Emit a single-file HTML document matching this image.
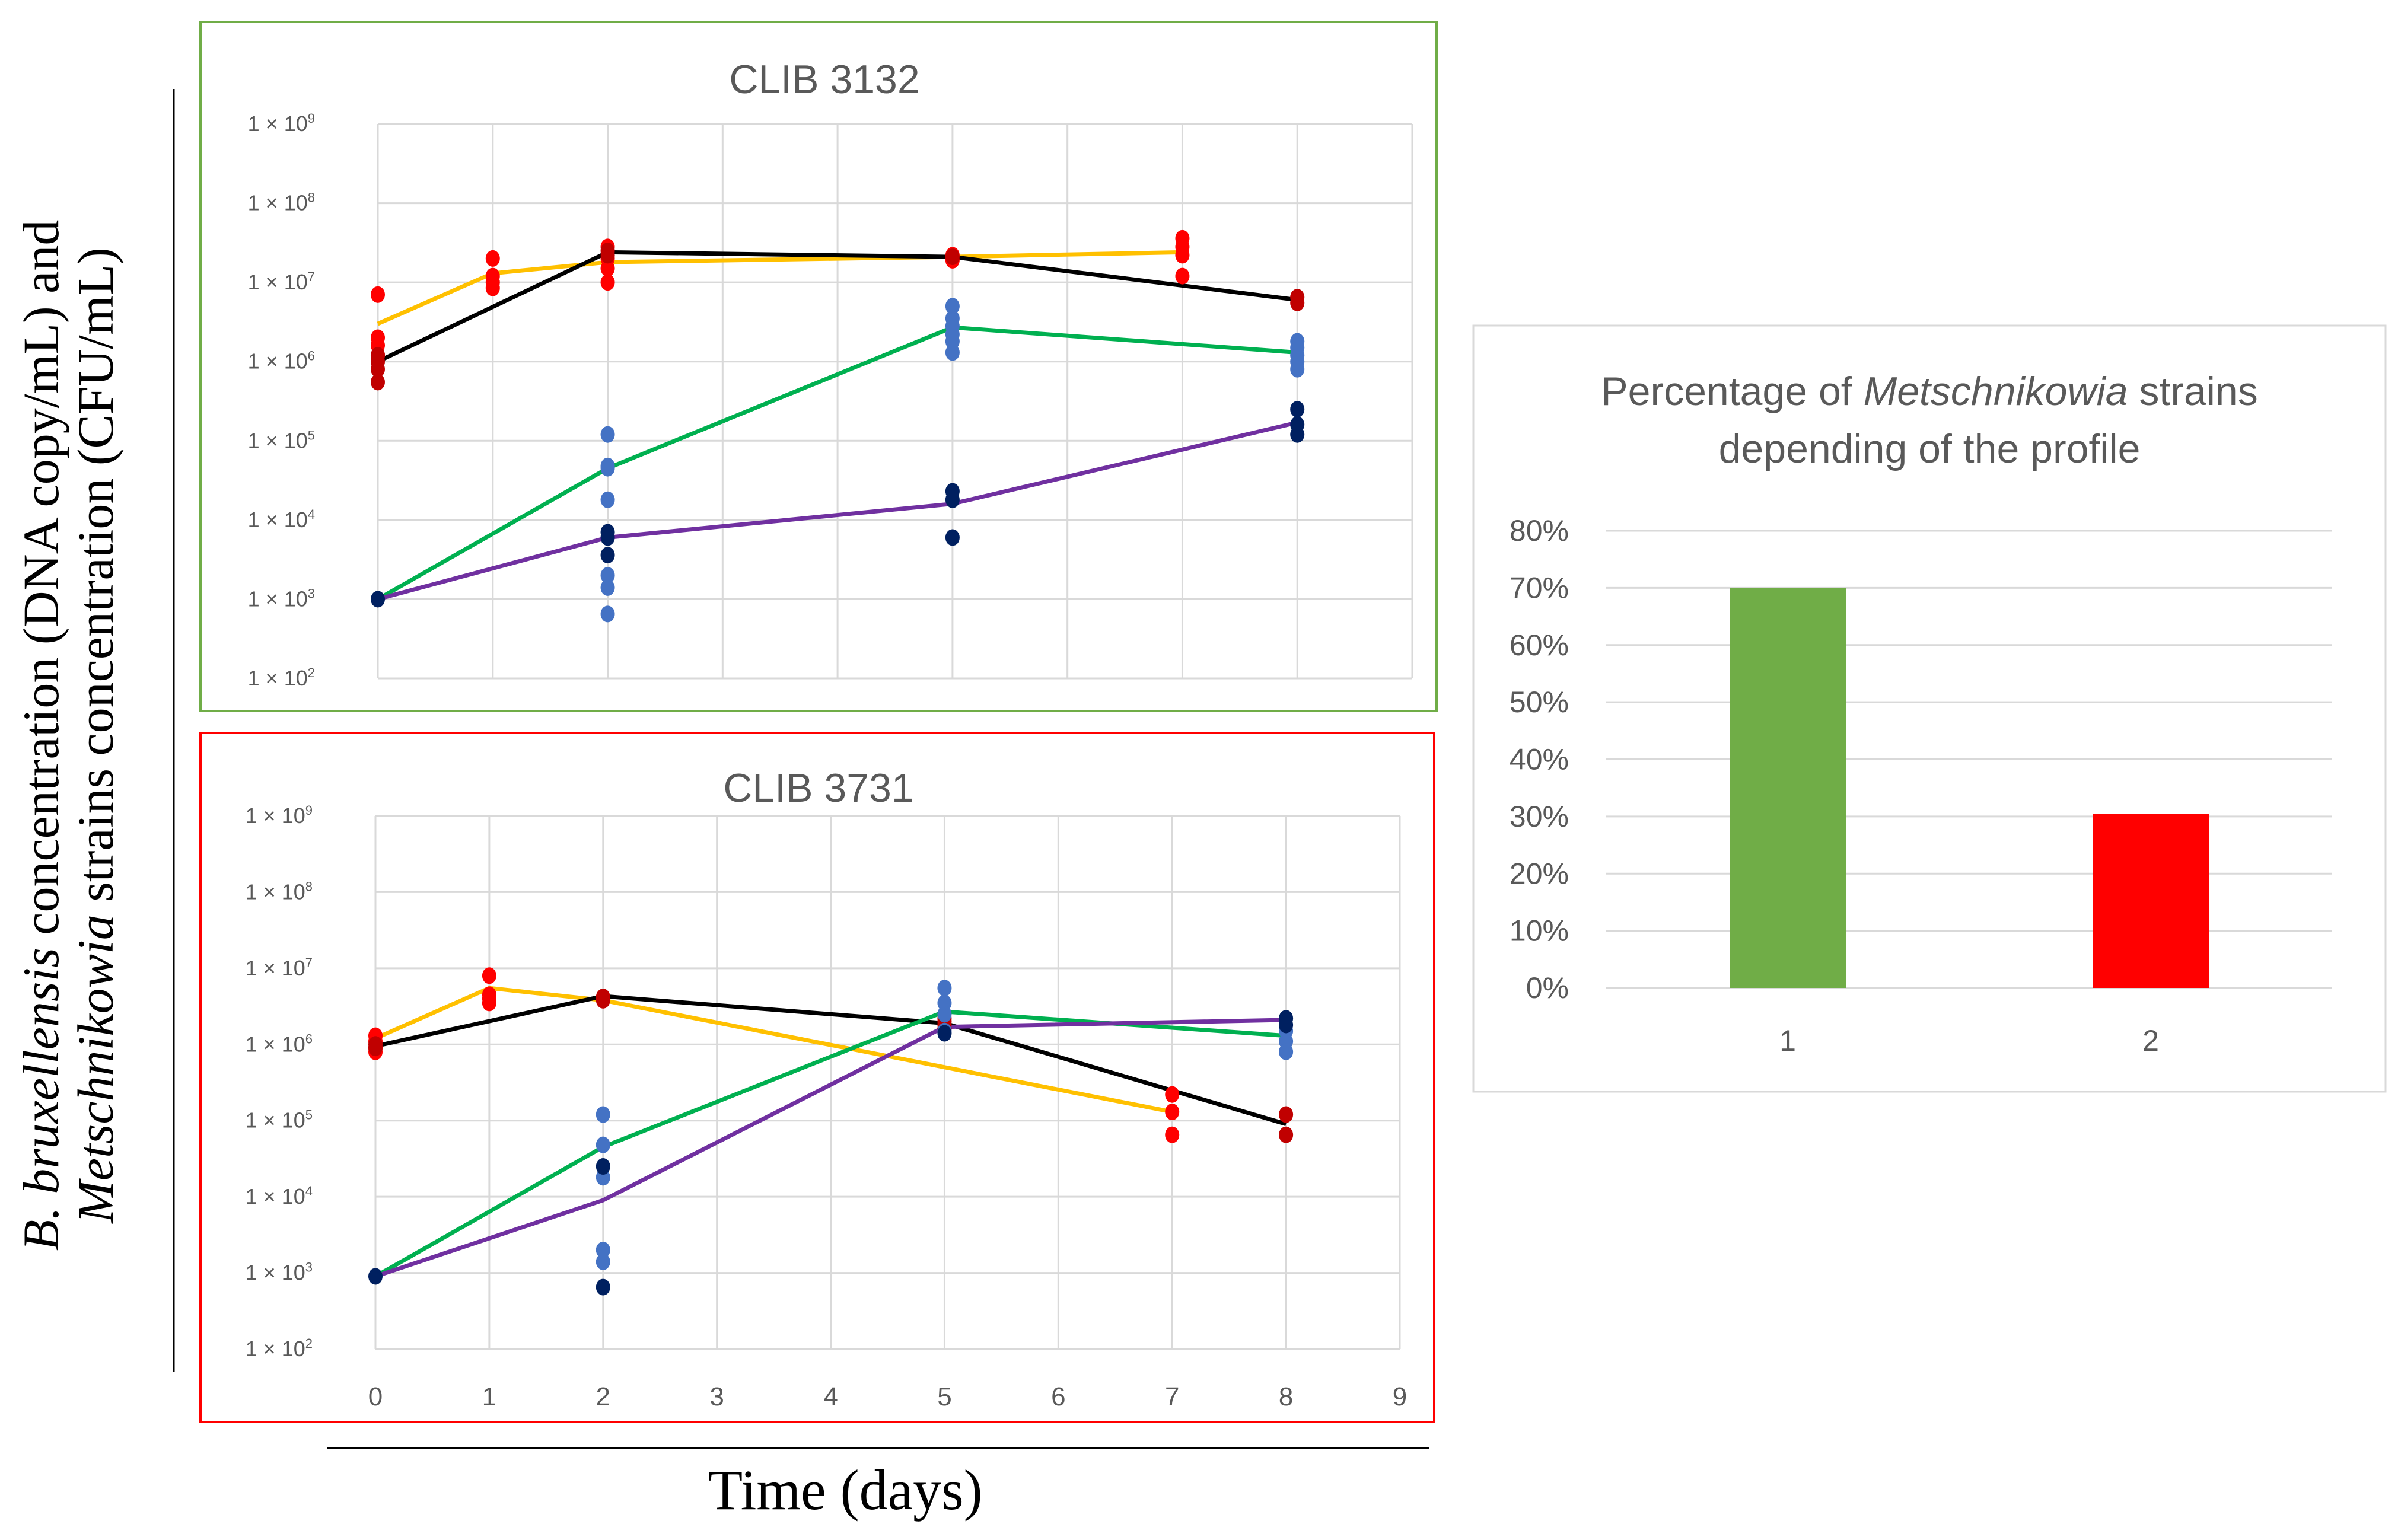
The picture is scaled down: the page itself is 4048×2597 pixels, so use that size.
<!DOCTYPE html>
<html><head><meta charset="utf-8"><style>
html,body{margin:0;padding:0;background:#fff;}
svg{display:block;}
text{font-family:"Liberation Sans",sans-serif;}
</style></head><body>
<svg id="fig" width="4048" height="2597" viewBox="0 0 4048 2597" xmlns="http://www.w3.org/2000/svg">
<rect x="0" y="0" width="4048" height="2597" fill="#fff"/>
<rect x="338" y="37" width="2084" height="1162" fill="none" stroke="#70AD47" stroke-width="4"/>
<rect x="338" y="1236" width="2080" height="1162" fill="none" stroke="#FF0000" stroke-width="4"/>
<line x1="293" y1="150" x2="293" y2="2313" stroke="#000" stroke-width="3"/>
<line x1="552" y1="2442" x2="2409" y2="2442" stroke="#000" stroke-width="3"/>
<g transform="translate(120,1240) rotate(-90)">
<text x="0" y="-22" text-anchor="middle" font-size="86" style="font-family:'Liberation Serif',serif"><tspan font-style="italic">B. bruxellensis</tspan> concentration (DNA copy/mL) and</text>
<text x="0" y="70" text-anchor="middle" font-size="86" style="font-family:'Liberation Serif',serif"><tspan font-style="italic">Metschnikowia</tspan> strains concentration (CFU/mL)</text>
</g>
<text x="1425" y="2545" text-anchor="middle" font-size="96" style="font-family:'Liberation Serif',serif">Time (days)</text>
<g id="top"></g>
<g id="bot"></g>
<g id="bar"></g>
</svg>
<script>
// ---- top chart data (CLIB 3132) ----
const topYellowX=[0,1,2,5,7];
const topYellowY=[3e6,1.3e7,1.8e7,2.1e7,2.4e7];
const topBlackX=[0,2,5,8];
const topBlackY=[1e6,2.4e7,2.1e7,6e6];
const topGreenX=[0,2,5,8];
const topGreenY=[1e3,4.5e4,2.7e6,1.3e6];
const topPurpleX=[0,2,5,8];
const topPurpleY=[1e3,6e3,1.6e4,1.7e5];
const topRedX=[0,0,0,0,1,1,1,1,2,2,2,2,5,5,7,7,7,7];
const topRedY=[7e6,2e6,1.6e6,1.2e6,2e7,1.2e7,1e7,8.5e6,2.8e7,2e7,1.5e7,1e7,2.2e7,1.9e7,3.6e7,2.8e7,2.2e7,1.2e7];
const topDarkRedX=[0,0,0,0,2,2,5,8,8];
const topDarkRedY=[1.2e6,1e6,8e5,5.5e5,2.5e7,2.2e7,2.1e7,6.5e6,5.5e6];
const topBlueX=[2,2,2,2,2,2,2,5,5,5,5,5,5,8,8,8,8,8];
const topBlueY=[1.2e5,4.8e4,4.5e4,1.8e4,2e3,1.4e3,6.5e2,5e6,3.5e6,2.8e6,2.2e6,1.8e6,1.3e6,1.8e6,1.5e6,1.2e6,1e6,8e5];
const topNavyX=[0,2,2,2,5,5,5,8,8,8];
const topNavyY=[1e3,7e3,6e3,3.6e3,2.3e4,1.8e4,6e3,2.5e5,1.6e5,1.2e5];
// ---- bottom chart data (CLIB 3731) ----
const botYellowX=[0,1,2,7];
const botYellowY=[1.2e6,5.5e6,3.8e6,1.3e5];
const botBlackX=[0,2,5,8];
const botBlackY=[9.5e5,4.3e6,1.9e6,9e4];
const botGreenX=[0,2,5,8];
const botGreenY=[9e2,4.5e4,2.7e6,1.3e6];
const botPurpleX=[0,2,5,8];
const botPurpleY=[9e2,9e3,1.7e6,2.1e6];
const botRedX=[0,0,0,0,1,1,1,1,7,7,7];
const botRedY=[1.3e6,1.1e6,9e5,8e5,8e6,4.5e6,4e6,3.5e6,2.2e5,1.3e5,6.5e4];
const botDarkRedX=[0,0,2,2,5,5,5,5,8,8];
const botDarkRedY=[1e6,9e5,4.2e6,3.8e6,2.2e6,2e6,1.8e6,1.6e6,1.2e5,6.5e4];
const botBlueX=[2,2,2,2,2,5,5,5,5,8,8,8];
const botBlueY=[1.2e5,4.8e4,1.8e4,2e3,1.4e3,5.5e6,3.5e6,2.5e6,1.5e6,1.5e6,1.1e6,8e5];
const botNavyX=[0,2,2,5,8,8];
const botNavyY=[9e2,2.5e4,6.5e2,1.4e6,2.2e6,1.8e6];
const yTickExp=[2,3,4,5,6,7,8,9];
const xTickLabels=["0","1","2","3","4","5","6","7","8","9"];
// ---- bar chart data ----
const barCats=["1","2"];
const barVals=[70,30.5];
const barTicks=[0,10,20,30,40,50,60,70,80];

const NS="http://www.w3.org/2000/svg";
function mk(parent,tag,attrs){const e=document.createElementNS(NS,tag);for(const k in attrs)e.setAttribute(k,attrs[k]);parent.appendChild(e);return e;}

function logChart(g,cfg,title,series,showX){
  const xs=v=>cfg.x0+v*(cfg.x1-cfg.x0)/9;
  const ys=v=>cfg.yTop+(9-Math.log10(v))*(cfg.yBot-cfg.yTop)/7;
  for(let i=0;i<=9;i++){
    const l=mk(g,'line',{x1:xs(i),x2:xs(i),y1:ys(1e9),y2:ys(1e2),stroke:'#d9d9d9','stroke-width':3});
    
    
  }
  yTickExp.forEach(e=>{
    const l=mk(g,'line',{x1:xs(0),x2:xs(9),y1:ys(Math.pow(10,e)),y2:ys(Math.pow(10,e)),stroke:'#d9d9d9','stroke-width':3});
    
    
    const t=mk(g,'text',{x:cfg.x0-106,y:ys(Math.pow(10,e))+12,'text-anchor':'end','font-size':36,fill:'#595959'});
    t.textContent='1 × 10';
    const s=mk(t,'tspan',{dy:-14,'font-size':22});s.textContent=e;
    
    
  });
  if(showX){xTickLabels.forEach((lb,i)=>{
    const t=mk(g,'text',{x:xs(i),y:cfg.xLabY,'text-anchor':'middle','font-size':44,fill:'#595959'});t.textContent=lb;
    
    
  });}
  const tt=mk(g,'text',{x:cfg.titleX,y:cfg.titleY,'text-anchor':'middle','font-size':68,fill:'#595959'});tt.textContent=title;
  
  
  series.forEach(s=>{
    if(s.line){
      const p=mk(g,'polyline',{points:s.x.map((v,i)=>xs(v)+','+ys(s.y[i])).join(' '),fill:'none',stroke:s.color,'stroke-width':7});
      
      
    }else{
      s.x.forEach((v,i)=>{
        const c=mk(g,'ellipse',{cx:xs(v),cy:ys(s.y[i]),rx:12,ry:14,fill:s.color});
        
        
      });
    }
  });
}
logChart(document.getElementById('top'),{x0:637,x1:2381,yTop:209,yBot:1144,titleX:1390,titleY:157},'CLIB 3132',[
 {line:1,x:topYellowX,y:topYellowY,color:'#FFC000',name:'series-yellow-line'},
 {line:1,x:topBlackX,y:topBlackY,color:'#000000',name:'series-black-line'},
 {line:1,x:topGreenX,y:topGreenY,color:'#00B050',name:'series-green-line'},
 {line:1,x:topPurpleX,y:topPurpleY,color:'#7030A0',name:'series-purple-line'},
 {x:topRedX,y:topRedY,color:'#FF0000',name:'red-point'},
 {x:topDarkRedX,y:topDarkRedY,color:'#C00000',name:'dark-red-point'},
 {x:topBlueX,y:topBlueY,color:'#4472C4',name:'blue-point'},
 {x:topNavyX,y:topNavyY,color:'#002060',name:'navy-point'}],false);
logChart(document.getElementById('bot'),{x0:633,x1:2360,yTop:1376,yBot:2275,titleX:1380,titleY:1352,xLabY:2370},'CLIB 3731',[
 {line:1,x:botYellowX,y:botYellowY,color:'#FFC000',name:'series-yellow-line'},
 {line:1,x:botBlackX,y:botBlackY,color:'#000000',name:'series-black-line'},
 {line:1,x:botGreenX,y:botGreenY,color:'#00B050',name:'series-green-line'},
 {line:1,x:botPurpleX,y:botPurpleY,color:'#7030A0',name:'series-purple-line'},
 {x:botRedX,y:botRedY,color:'#FF0000',name:'red-point'},
 {x:botDarkRedX,y:botDarkRedY,color:'#C00000',name:'dark-red-point'},
 {x:botBlueX,y:botBlueY,color:'#4472C4',name:'blue-point'},
 {x:botNavyX,y:botNavyY,color:'#002060',name:'navy-point'}],true);

// bar chart
(function(){
  const g=document.getElementById('bar');
  const box=mk(g,'rect',{x:2484,y:549,width:1538,height:1292,fill:'#fff',stroke:'#d9d9d9','stroke-width':3});
  
  
  const t1=mk(g,'text',{x:3253,y:683,'text-anchor':'middle','font-size':68,fill:'#595959'});
  t1.textContent='Percentage of ';
  const it=mk(t1,'tspan',{'font-style':'italic'});it.textContent='Metschnikowia';
  const rest=mk(t1,'tspan',{});rest.textContent=' strains';
  
  
  const t2=mk(g,'text',{x:3253,y:780,'text-anchor':'middle','font-size':68,fill:'#595959'});t2.textContent='depending of the profile';
  
  
  const x0=2708,x1=3932,y0=1666,y80=895;
  const ys=v=>y0-v*(y0-y80)/80;
  const band=(x1-x0)/barCats.length;
  barTicks.forEach(v=>{
    const l=mk(g,'line',{x1:x0,x2:x1,y1:ys(v),y2:ys(v),stroke:'#d9d9d9','stroke-width':3});
    
    
    const t=mk(g,'text',{x:2645,y:ys(v)+17,'text-anchor':'end','font-size':50,fill:'#595959'});t.textContent=v+'%';
    
    
  });
  const cols=['#70AD47','#FF0000'];
  barCats.forEach((c,i)=>{
    const cx=x0+band*(i+0.5);
    const r=mk(g,'rect',{x:cx-98,y:ys(barVals[i]),width:196,height:ys(0)-ys(barVals[i]),fill:cols[i]});
    
    
    const t=mk(g,'text',{x:cx,y:1772,'text-anchor':'middle','font-size':50,fill:'#595959'});t.textContent=c;
    
    
  });
})();
</script>
</body></html>
